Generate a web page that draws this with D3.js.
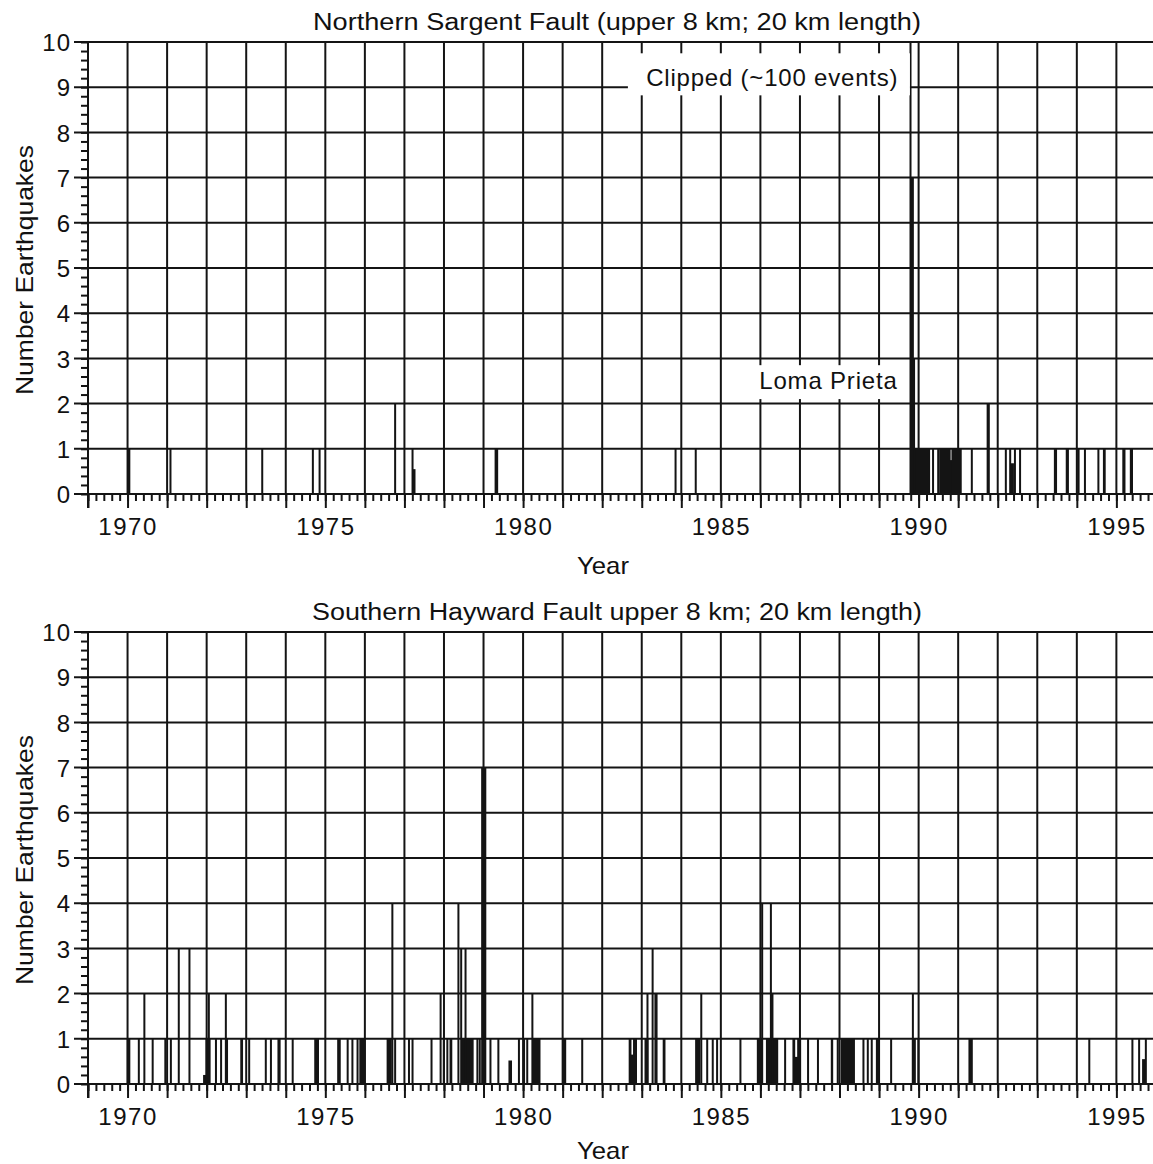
<!DOCTYPE html>
<html><head><meta charset="utf-8">
<script src="https://cdn.jsdelivr.net/npm/d3@7/dist/d3.min.js"></script>
<style>
body{margin:0;background:#fff}
text{font-family:"Liberation Sans",Arial,sans-serif;fill:#111}
</style>
</head><body>
<svg id="chart" width="1153" height="1164"></svg>
<script>
// ---------- data ----------
const panelTitles = [
  "Northern Sargent Fault (upper 8 km; 20 km length)",
  "Southern Hayward Fault upper 8 km; 20 km length)"
];
const xAxisTitle = "Year";
const yAxisTitle = "Number Earthquakes";
const yearTickLabels = [1970, 1975, 1980, 1985, 1990, 1995];
const countTickLabels = [0, 1, 2, 3, 4, 5, 6, 7, 8, 9, 10];

// histogram bins: [start year, end year, number of earthquakes]
const sargentBins = [
  [1970.02, 1970.07, 1], [1971.08, 1971.11, 1], [1973.40, 1973.43, 1],
  [1974.68, 1974.71, 1], [1974.85, 1974.88, 1], [1976.76, 1976.79, 2],
  [1977.20, 1977.23, 1], [1977.23, 1977.28, 0.55], [1979.30, 1979.37, 1],
  [1983.85, 1983.88, 1], [1984.36, 1984.39, 1],
  [1989.81, 1990.29, 1], [1989.79, 1989.82, 100], [1989.82, 1989.88, 7],
  [1989.88, 1989.91, 3],
  [1990.36, 1990.39, 1], [1990.49, 1990.52, 1], [1990.54, 1990.81, 1],
  [1990.81, 1990.85, 0.75], [1990.85, 1991.09, 1], [1991.34, 1991.37, 1],
  [1991.74, 1991.80, 2], [1992.20, 1992.23, 1], [1992.31, 1992.34, 1],
  [1992.35, 1992.41, 0.68], [1992.43, 1992.46, 1], [1992.56, 1992.59, 1],
  [1993.44, 1993.50, 1], [1993.74, 1993.80, 1], [1994.03, 1994.07, 1],
  [1994.20, 1994.23, 1], [1994.54, 1994.57, 1], [1994.68, 1994.73, 1],
  [1995.17, 1995.23, 1], [1995.36, 1995.42, 1]
];
const haywardBins = [
  [1970.00, 1970.07, 1], [1970.28, 1970.31, 1], [1970.42, 1970.45, 2],
  [1970.63, 1970.66, 1], [1970.95, 1970.98, 1], [1971.09, 1971.12, 1],
  [1971.29, 1971.32, 3], [1971.56, 1971.59, 3], [1971.93, 1971.99, 0.2],
  [1971.99, 1972.10, 1], [1972.05, 1972.08, 2], [1972.23, 1972.26, 1],
  [1972.36, 1972.39, 1], [1972.48, 1972.51, 2], [1972.51, 1972.54, 1],
  [1972.87, 1972.92, 1], [1973.07, 1973.10, 1], [1973.49, 1973.52, 1],
  [1973.62, 1973.65, 1], [1973.81, 1973.87, 1], [1974.17, 1974.20, 1],
  [1974.74, 1974.84, 1], [1975.32, 1975.39, 1], [1975.56, 1975.59, 1],
  [1975.68, 1975.71, 1], [1975.81, 1975.84, 1], [1975.88, 1976.02, 1],
  [1976.57, 1976.68, 1], [1976.69, 1976.72, 4], [1976.76, 1976.79, 1],
  [1977.11, 1977.14, 1], [1977.20, 1977.23, 1], [1977.68, 1977.71, 1],
  [1977.91, 1977.94, 2], [1977.99, 1978.02, 1], [1978.08, 1978.11, 1],
  [1978.16, 1978.21, 1], [1978.36, 1978.39, 4], [1978.43, 1978.46, 3],
  [1978.46, 1978.75, 1], [1978.54, 1978.57, 3], [1978.84, 1978.87, 1],
  [1978.90, 1978.93, 1], [1978.96, 1979.07, 7], [1979.17, 1979.20, 1],
  [1979.37, 1979.40, 1], [1979.65, 1979.72, 0.52], [1979.89, 1979.92, 1],
  [1980.02, 1980.05, 1], [1980.10, 1980.13, 1], [1980.23, 1980.26, 2],
  [1980.27, 1980.44, 1], [1981.03, 1981.09, 1], [1981.49, 1981.52, 1],
  [1982.69, 1982.74, 1], [1982.74, 1982.80, 0.65], [1982.80, 1982.88, 1],
  [1983.09, 1983.17, 1], [1983.14, 1983.17, 2], [1983.27, 1983.30, 3],
  [1983.34, 1983.40, 2], [1983.55, 1983.60, 1],
  [1984.37, 1984.48, 1], [1984.50, 1984.53, 2], [1984.65, 1984.68, 1],
  [1984.79, 1984.82, 1], [1984.90, 1984.93, 1], [1985.49, 1985.52, 1],
  [1985.93, 1986.04, 1], [1986.04, 1986.07, 4], [1986.16, 1986.45, 1],
  [1986.26, 1986.29, 4], [1986.29, 1986.33, 2], [1986.62, 1986.65, 1],
  [1986.83, 1986.88, 1], [1986.88, 1986.95, 0.6], [1986.95, 1987.03, 1],
  [1987.20, 1987.23, 1], [1987.45, 1987.48, 1], [1987.80, 1987.84, 1],
  [1987.95, 1987.98, 1], [1988.05, 1988.39, 1], [1988.60, 1988.63, 1],
  [1988.71, 1988.74, 1], [1988.81, 1988.84, 1], [1988.94, 1989.00, 1],
  [1989.30, 1989.33, 1], [1989.85, 1989.93, 1], [1989.85, 1989.88, 2],
  [1989.99, 1990.02, 1], [1991.28, 1991.37, 1], [1994.31, 1994.34, 1],
  [1995.40, 1995.43, 1], [1995.57, 1995.60, 1], [1995.67, 1995.74, 0.55],
  [1995.74, 1995.77, 1]
];
const panelBins = [sargentBins, haywardBins];

// annotations (data coordinates: year / count)
const clippedNote = {text: "Clipped (~100 events)", x0: 1982.65, x1: 1989.78, y0: 8.82, y1: 9.75, tx: 1986.3, ty: 9.03};
const lomaNote = {text: "Loma Prieta", x0: 1985.75, x1: 1989.70, y0: 2.1, y1: 2.85, tx: 1987.72, ty: 2.33};

// ---------- layout ----------
const svg = d3.select("#chart");
const left = 88, right = 1153;
const panelTops = [42, 632];
const yearTitleOffsets = [80, 75];
const panelH = 452;
const x = d3.scaleLinear().domain([1969, 1995.85]).range([left, 1150]);
const gridYears = d3.range(1969, 1996, 1);
const minorYears = d3.range(1969, 1995.85, 0.2);
const minorCounts = d3.range(0, 10.001, 0.2);
const ink = "#141414";

panelBins.forEach((bins, pi) => {
  const top = panelTops[pi];
  const y = d3.scaleLinear().domain([0, 10]).range([top + panelH, top]);
  const g = svg.append("g");

  // vertical grid
  g.selectAll(".vg").data(gridYears).join("line")
    .attr("x1", d => x(d)).attr("x2", d => x(d))
    .attr("y1", y(10)).attr("y2", y(0))
    .attr("stroke", ink).attr("stroke-width", 2);
  // horizontal grid (extends to major tick)
  g.selectAll(".hg").data(countTickLabels).join("line")
    .attr("x1", left - 14).attr("x2", right)
    .attr("y1", d => y(d)).attr("y2", d => y(d))
    .attr("stroke", ink).attr("stroke-width", 2);

  // x axis ticks
  const xMinor = d3.axisBottom(x).tickValues(minorYears).tickSize(7).tickFormat("");
  const gxm = g.append("g").attr("transform", `translate(0,${y(0)})`).call(xMinor);
  const xMajor = d3.axisBottom(x).tickValues(gridYears).tickSize(14).tickFormat("");
  const gxM = g.append("g").attr("transform", `translate(0,${y(0)})`).call(xMajor);
  [gxm, gxM].forEach(a => {
    a.select(".domain").remove();
    a.selectAll("line").attr("stroke", ink).attr("stroke-width", 2);
  });
  const xLab = d3.axisBottom(x).tickValues(yearTickLabels).tickSize(0).tickFormat(d3.format("d"));
  const gxl = g.append("g").attr("transform", `translate(0,${y(0)})`).call(xLab);
  gxl.select(".domain").remove();
  gxl.selectAll("text").attr("y", 24).attr("dy", "0.71em")
    .attr("font-size", 24).attr("letter-spacing", 1.5)
    .attr("font-family", "Liberation Sans, Arial, sans-serif").attr("fill", ink);

  // y axis ticks
  const yMinor = d3.axisLeft(y).tickValues(minorCounts).tickSize(7).tickFormat("");
  const gym = g.append("g").attr("transform", `translate(${left},0)`).call(yMinor);
  gym.select(".domain").remove();
  gym.selectAll("line").attr("stroke", ink).attr("stroke-width", 2);
  const yLab = d3.axisLeft(y).tickValues(countTickLabels).tickSize(0).tickFormat(d3.format("d"));
  const gyl = g.append("g").attr("transform", `translate(${left - 17},0)`).call(yLab);
  gyl.select(".domain").remove();
  gyl.selectAll("text").attr("x", 0).attr("dy", "0.36em")
    .attr("font-size", 24).attr("letter-spacing", 1)
    .attr("font-family", "Liberation Sans, Arial, sans-serif").attr("fill", ink);

  // axis lines
  g.append("line").attr("x1", left).attr("x2", left).attr("y1", y(10)).attr("y2", y(0) + 14)
    .attr("stroke", ink).attr("stroke-width", 2);
  g.append("line").attr("x1", left).attr("x2", right).attr("y1", y(0)).attr("y2", y(0))
    .attr("stroke", ink).attr("stroke-width", 2);

  // bars
  g.selectAll(".bar").data(bins).join("rect")
    .attr("x", d => x(d[0]) - 0.8)
    .attr("width", d => Math.max(2, x(d[1]) - x(d[0]) + 0.8))
    .attr("y", d => y(Math.min(d[2], 10)))
    .attr("height", d => y(0) - y(Math.min(d[2], 10)))
    .attr("fill", ink);

  // titles
  svg.append("text").attr("x", 617).attr("y", top - 12)
    .attr("text-anchor", "middle").attr("font-size", 23)
    .attr("textLength", pi === 0 ? 608 : 610).attr("lengthAdjust", "spacingAndGlyphs")
    .text(panelTitles[pi]);
  svg.append("text").attr("x", 603).attr("y", top + panelH + yearTitleOffsets[pi])
    .attr("text-anchor", "middle").attr("font-size", 24)
    .attr("textLength", 52).attr("lengthAdjust", "spacingAndGlyphs")
    .text(xAxisTitle);
  svg.append("text")
    .attr("transform", `translate(33,${top + panelH / 2 + 2}) rotate(-90)`)
    .attr("text-anchor", "middle").attr("font-size", 24)
    .attr("textLength", 250).attr("lengthAdjust", "spacingAndGlyphs")
    .text(yAxisTitle);

  // annotations (top panel)
  if (pi === 0) {
    [clippedNote, lomaNote].forEach(n => {
      g.append("rect").attr("x", x(n.x0)).attr("y", y(n.y1))
        .attr("width", x(n.x1) - x(n.x0)).attr("height", y(n.y0) - y(n.y1))
        .attr("fill", "#fff");
      g.append("text").attr("x", x(n.tx)).attr("y", y(n.ty))
        .attr("text-anchor", "middle").attr("font-size", 24)
        .attr("letter-spacing", 0.8)
        .text(n.text);
    });
  }
});
</script>
</body></html>
